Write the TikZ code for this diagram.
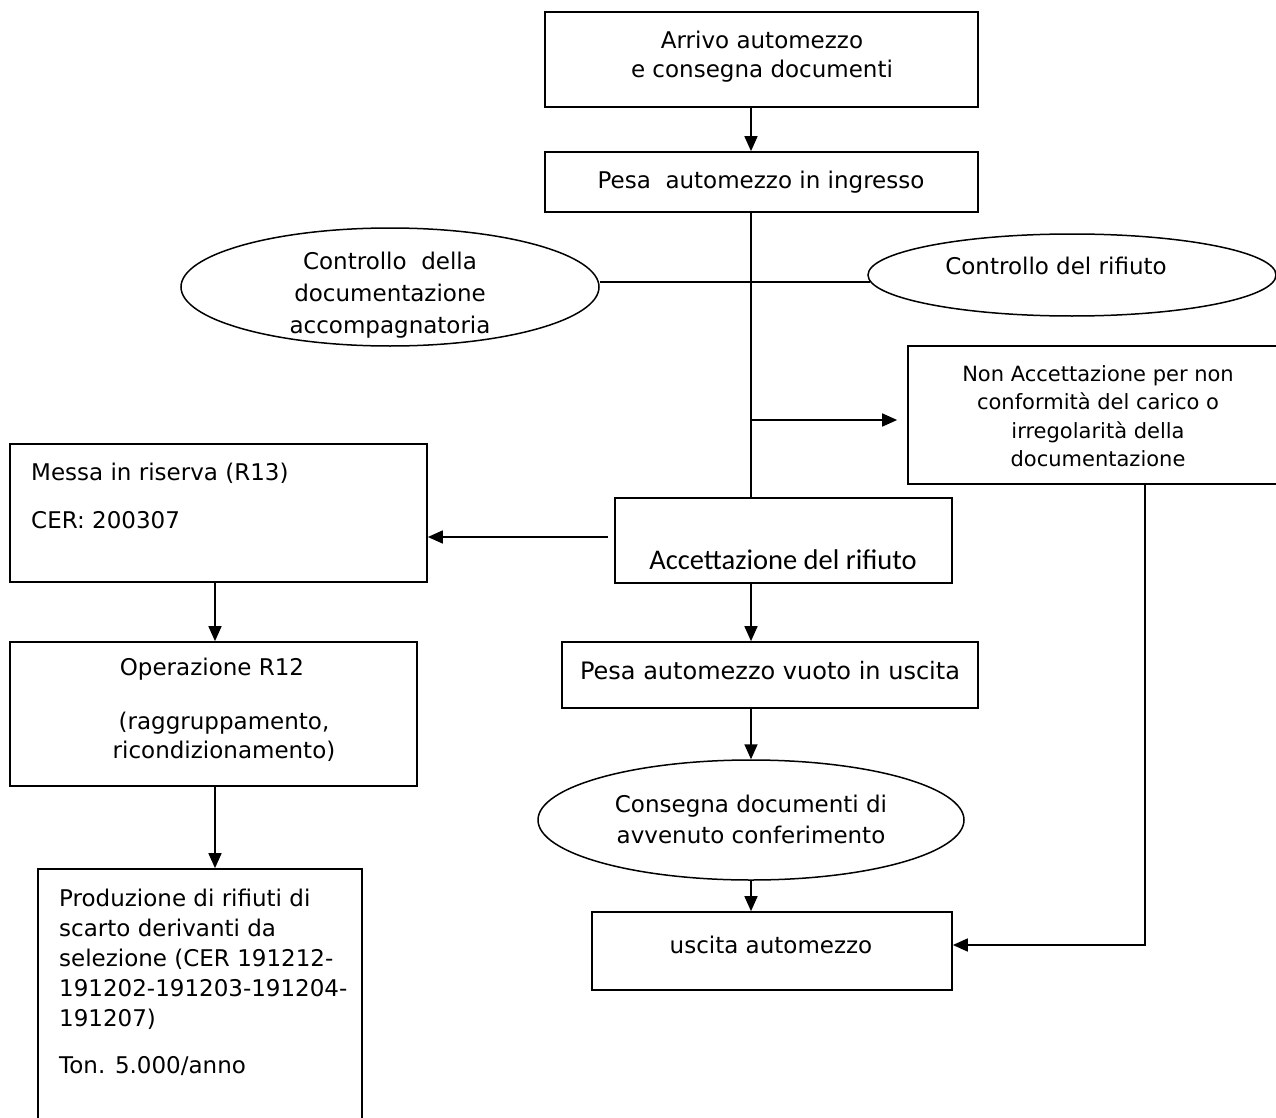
\documentclass[tikz,border=0pt]{standalone}
\usepackage{fontspec}
\setmainfont{DejaVu Sans}
\newfontfamily\califont{Carlito}
\usetikzlibrary{arrows.meta,shapes.geometric,calc}
\begin{document}
\begin{tikzpicture}[x=1pt,y=-1pt,
  box/.style={draw,line width=1.7pt,rectangle,inner sep=0pt},
  oval/.style={draw,line width=1.5pt,ellipse,inner sep=0pt},
  txt/.style={inner sep=0pt,align=center,font=\fontsize{23}{29}\selectfont},
  ltxt/.style={inner sep=0pt,align=left,anchor=west,font=\fontsize{23}{29}\selectfont},
  conn/.style={line width=1.7pt},
  arr/.style={line width=1.7pt,-{Triangle[length=15pt,width=13pt]}}]
\useasboundingbox (0,0) rectangle (1276,1118);
\clip (0,0) rectangle (1276,1118);
\fill[white] (0,0) rectangle (1276,1118);

% boxes and ellipses
\node[box,minimum width=433pt,minimum height=95pt] (b1) at (761.5,59.5) {};
\node[box,minimum width=433pt,minimum height=60pt] (b2) at (761.5,182) {};
\node[oval,minimum width=418pt,minimum height=118pt] (ctrl1) at (390,287) {};
\node[oval,minimum width=408pt,minimum height=82pt] (ctrl2) at (1072,275) {};
\node[box,minimum width=374pt,minimum height=138pt] (nonacc) at (1095,415) {};
\node[box,minimum width=337pt,minimum height=85pt] (acc) at (783.5,540.5) {};
\node[box,minimum width=417pt,minimum height=138pt] (mr) at (218.5,513) {};
\node[box,minimum width=407pt,minimum height=144pt] (op) at (213.5,714) {};
\node[box,minimum width=324pt,minimum height=266pt] (prod) at (200,1002) {};
\node[box,minimum width=416pt,minimum height=66pt] (pv) at (770,675) {};
\node[oval,minimum width=426pt,minimum height=120pt] (cons) at (751,820) {};
\node[box,minimum width=360pt,minimum height=78pt] (usc) at (772,951) {};

% texts
\node[txt] (t1) at (762,57) {Arrivo automezzo\\e consegna documenti};
\node[txt] (t2) at (761,182) {Pesa\ \ automezzo in ingresso};
\node[txt,font=\fontsize{23}{32}\selectfont] (tc1) at (390,295) {Controllo\ \ della\\documentazione\\accompagnatoria};
\node[txt] (tc2) at (1056,266) {Controllo del rifiuto};
\node[txt,font=\fontsize{21}{28.5}\selectfont] (tna) at (1098,416) {Non Accettazione per non\\conformità del carico o\\irregolarità della\\documentazione};
\node[txt,font=\califont\fontsize{28.5}{34}\selectfont] (tacc) at (783,560) {Accettazione del rifiuto};
\node[ltxt] (tmr1) at (31,473) {Messa in riserva (R13)};
\node[ltxt] (tmr2) at (31,520) {CER: 200307};
\node[txt] (top1) at (212,669) {Operazione R12};
\node[txt] (top2) at (224,737) {(raggruppamento,\\ricondizionamento)};
\node[ltxt,anchor=north west,font=\fontsize{23}{30}\selectfont] (tpr1) at (59,889) {Produzione di rifiuti di\\scarto derivanti da\\selezione (CER 191212-\\191202-191203-191204-\\191207)};
\node[ltxt] (tpr2) at (59,1066) {Ton. 5.000/anno};
\node[txt,font=\fontsize{24}{29}\selectfont] (tpv) at (770,671) {Pesa automezzo vuoto in uscita};
\node[txt,font=\fontsize{23}{31}\selectfont] (tcons) at (751,819) {Consegna documenti di\\avvenuto conferimento};
\node[txt] (tusc) at (771,945) {uscita automezzo};

% helper coordinates
\coordinate (mainx) at (751,420);
\coordinate (lx) at (215,600);
\coordinate (ay) at (608,537);
\coordinate (rt) at (1145,945);

% connectors
\draw[arr] (b1.south -| mainx) -- (b2.north -| mainx);
\draw[conn] (b2.south -| mainx) -- (acc.north -| mainx);
\draw[conn] (ctrl2.182.7) -- (ctrl2.182.7 -| ctrl1.east);
\draw[arr,shorten >=10pt] (mainx) -- (mainx -| nonacc.west);
\draw[arr] (ay) -- (ay -| mr.east);
\draw[arr] (mr.south -| lx) -- (op.north -| lx);
\draw[arr] (op.south -| lx) -- (prod.north -| lx);
\draw[arr] (acc.south -| mainx) -- (pv.north -| mainx);
\draw[arr] (pv.south -| mainx) -- (cons.north);
\draw[arr] (cons.south) -- (cons.south |- usc.north);
\draw[arr] (nonacc.south -| rt) -- (rt) -- (rt -| usc.east);
\end{tikzpicture}
\end{document}
